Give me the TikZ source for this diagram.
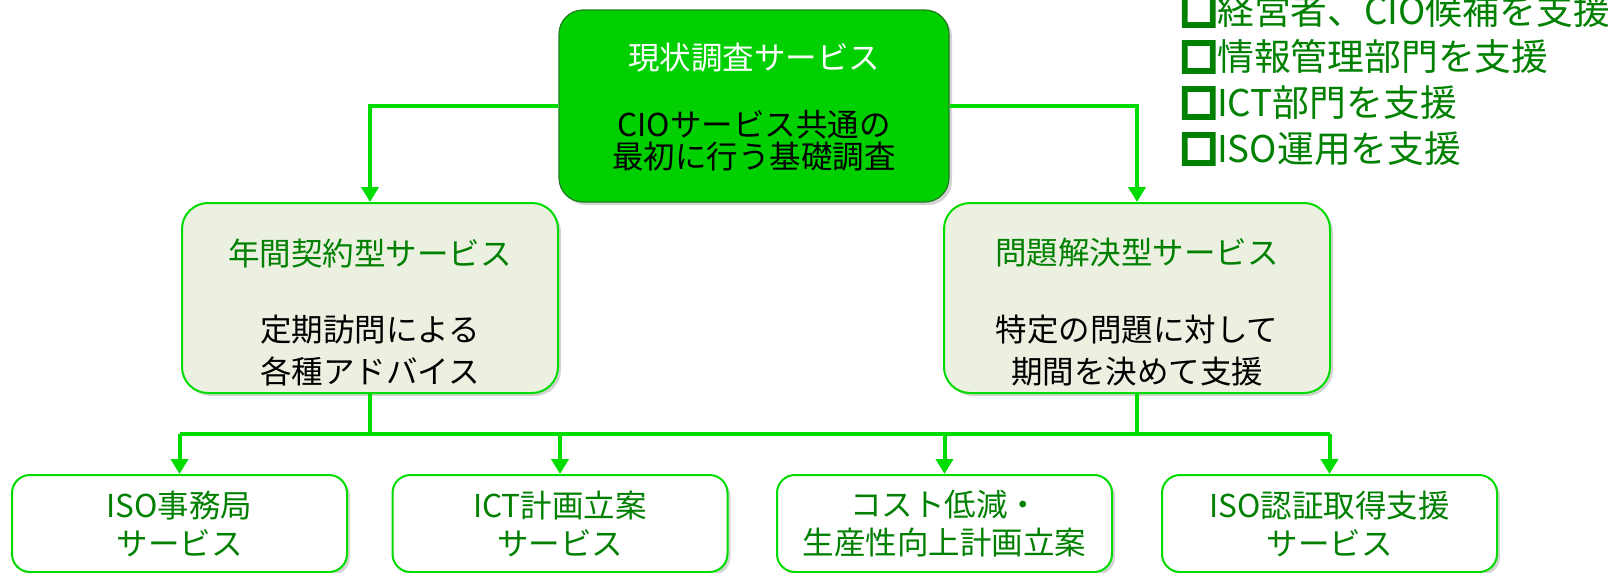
\documentclass[tikz,border=0pt]{standalone}
\usepackage{fontspec}
\setmainfont{Noto Sans CJK JP}
\newfontfamily\markfont{Noto Sans CJK JP}[FakeBold=12]
\usetikzlibrary{arrows.meta}
\usetikzlibrary{shadows}

\definecolor{linegreen}{RGB}{0,220,0}
\definecolor{topfill}{RGB}{0,208,0}
\definecolor{topedge}{RGB}{30,125,30}
\definecolor{darkgreen}{RGB}{0,128,0}
\definecolor{midfill}{RGB}{235,240,224}
\newcommand{\boxmark}{{\markfont □}}

\tikzset{
	shade box/.style = {drop shadow={opacity=0.35, shadow xshift=1.5pt, shadow yshift=-1.5pt}},
	topbox/.style = {draw=topedge, fill=topfill, line width=0.6pt, rounded corners=12pt, minimum width=195pt, minimum height=96pt, shade box},
	midbox/.style = {draw=linegreen, fill=midfill, line width=1pt, rounded corners=13pt, minimum height=95pt, shade box},
	lowbox/.style = {draw=linegreen, fill=white, line width=1pt, rounded corners=9pt, minimum width=167.5pt, minimum height=48.5pt, shade box, align=center, text=darkgreen, font=\fontsize{15.75pt}{19pt}\selectfont},
	link/.style = {draw=linegreen, line width=2pt},
	>={Triangle[length=7.5pt, width=8.5pt]}
}

\begin{document}
\begin{tikzpicture}[x=0.5pt, y=-0.5pt]
	\useasboundingbox (0,0) rectangle (1608,573);
	% boxes
	\node[topbox] (survey) at (754,106) {};
	\node[midbox, minimum width=188pt] (annual) at (370,298) {};
	\node[midbox, minimum width=193pt] (solve) at (1137,298) {};
	\node[lowbox] (iso) at (179.5,523.5) {ISO事務局\\サービス};
	\node[lowbox] (ict) at (560,523.5) {ICT計画立案\\サービス};
	\node[lowbox] (cost) at (944.5,523.5) {コスト低減・\\生産性向上計画立案};
	\node[lowbox] (cert) at (1329.5,523.5) {ISO認証取得支援\\サービス};

	% box texts
	\node[text=white, font=\fontsize{15.75pt}{16pt}\selectfont] (surveytitle) at (754,58) {現状調査サービス};
	\node[align=center, font=\fontsize{15.75pt}{16pt}\selectfont] (surveybody) at (754,141) {CIOサービス共通の\\最初に行う基礎調査};
	\node[text=darkgreen, font=\fontsize{15.75pt}{21pt}\selectfont] (annualtitle) at (370,253) {年間契約型サービス};
	\node[align=center, font=\fontsize{15.75pt}{21pt}\selectfont] (annualbody) at (370,351) {定期訪問による\\各種アドバイス};
	\node[text=darkgreen, font=\fontsize{15.75pt}{21pt}\selectfont] (solvetitle) at (1137,253) {問題解決型サービス};
	\node[align=center, font=\fontsize{15.75pt}{21pt}\selectfont] (solvebody) at (1137,351) {特定の問題に対して\\期間を決めて支援};

	% roles supported
	\node[anchor=west, align=left, inner sep=0pt, text=darkgreen, font=\fontsize{18.4pt}{23pt}\selectfont] (roles) at (1180,80) {\boxmark 経営者、CIO候補を支援\\\boxmark 情報管理部門を支援\\\boxmark ICT部門を支援\\\boxmark ISO運用を支援};

	% links
	\draw[link, ->] (survey.west) -| (annual.north);
	\draw[link, ->] (survey.east) -| (solve.north);
	\coordinate (bus) at (0,434);
	\draw[link] (annual.south) -- (annual.south |- bus);
	\draw[link] (solve.south) -- (solve.south |- bus);
	\draw[link] (iso.north |- bus) -- (cert.north |- bus);
	\foreach \n in {iso,ict,cost,cert}
		\draw[link, ->] (\n.north |- bus) -- (\n.north);
\end{tikzpicture}
\end{document}
